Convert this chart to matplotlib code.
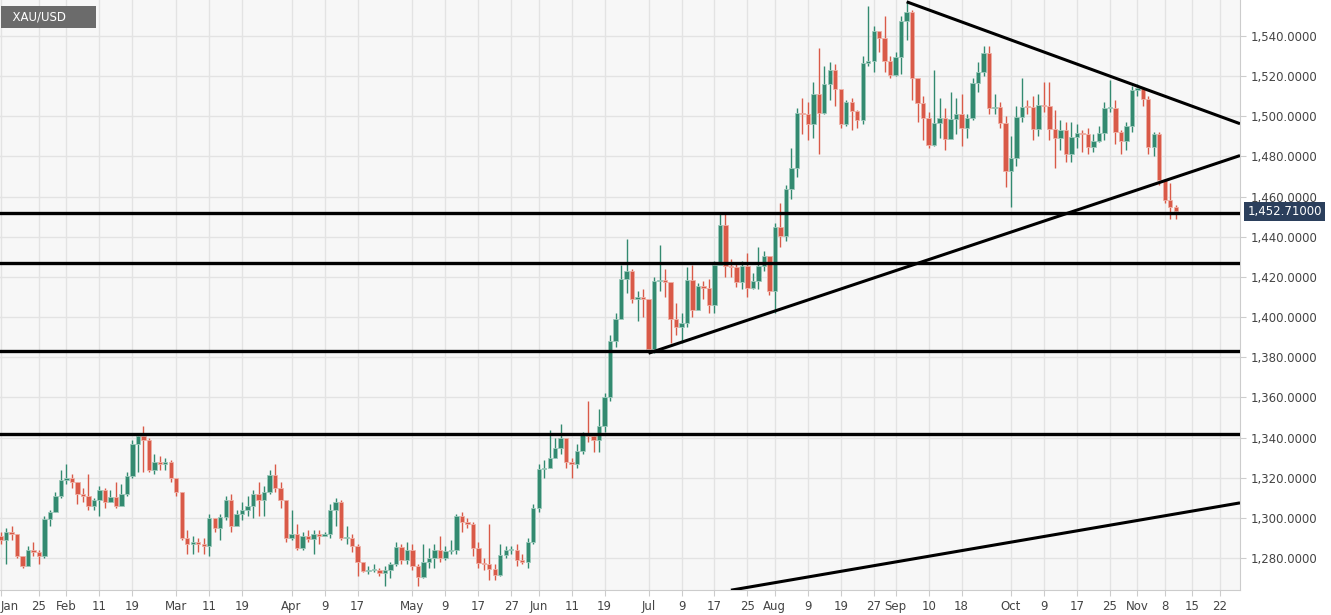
import numpy as np
import pandas as pd
import matplotlib
matplotlib.use("Agg")
from matplotlib import pyplot as plt
from matplotlib.patches import Rectangle

# daily closes / highs / lows (Jan 15 .. Nov 12, 2019)
closes = [1289, 1293, 1292, 1281, 1276, 1284, 1283, 1281, 1299.5, 1303, 1311, 1319, 1320,
          1318, 1312, 1311, 1306, 1309, 1314, 1308, 1310.5, 1306, 1312, 1321, 1337, 1341, 1339,
          1324, 1328, 1327, 1328, 1320, 1313,
          1290, 1287, 1288, 1287, 1286, 1300, 1295, 1300.5, 1309, 1296, 1302, 1304, 1306, 1312,
          1309, 1313, 1321.5, 1315, 1309, 1290, 1292,
          1285, 1291, 1289.5, 1292, 1291, 1292, 1304, 1308, 1290, 1290, 1286, 1278, 1273.5, 1274,
          1274, 1272.5, 1274, 1277, 1285.7, 1279, 1284, 1276,
          1270.5, 1278, 1280, 1284, 1280, 1283.7, 1284, 1301, 1298, 1297, 1285, 1277.4, 1277,
          1274.6, 1271.6, 1281.5, 1284, 1284, 1279, 1278, 1288, 1305,
          1324.4, 1325, 1329.7, 1335, 1340, 1327.7, 1326.7, 1333.3, 1342, 1340.8, 1339, 1346,
          1360, 1388, 1399, 1419, 1423, 1408.8, 1410, 1409,
          1384, 1418, 1418.5, 1417.6, 1399, 1395, 1397, 1418.5, 1403.5, 1415.5, 1414.3, 1406,
          1426, 1445.8, 1425.6, 1424.8, 1417.6, 1425.4, 1414.3, 1418.1, 1425.6, 1430.4, 1413,
          1445, 1440.5, 1463.6, 1474, 1501.5, 1501, 1496, 1511, 1501.5, 1516, 1523, 1513.6, 1496,
          1507, 1502.8, 1498, 1526.7, 1527.5, 1542.6, 1539.1, 1527.5, 1520.5,
          1529.7, 1547.6, 1552, 1518.9, 1506.8, 1499, 1485.7, 1496.8, 1498.9, 1488.5, 1498.5,
          1501, 1494, 1499, 1516.7, 1522.2, 1531.7, 1504, 1504.4, 1496.8, 1472.7,
          1479, 1499.8, 1504.8, 1504.4, 1493.5, 1505.6, 1505, 1493.7, 1489, 1493.2, 1481, 1489.8,
          1491.5, 1491, 1484.5, 1487.7, 1491.7, 1504, 1504.3, 1492.3, 1487.7, 1495.3, 1513,
          1513.9, 1508.4, 1484.5, 1491, 1468.3, 1458.3, 1455, 1452.8]
highs = [1293, 1295, 1296, 1292, 1281, 1286, 1288, 1284, 1301, 1304, 1313, 1324, 1327,
         1322, 1318, 1315, 1322, 1310, 1316, 1315, 1314, 1318, 1317, 1323, 1339, 1341.5, 1346,
         1340, 1332, 1331, 1330, 1329, 1320,
         1313, 1294, 1291, 1290, 1290, 1302, 1300, 1302, 1311, 1312, 1304, 1308, 1311, 1314,
         1318, 1316, 1324, 1327, 1318, 1309, 1304,
         1297, 1293, 1294, 1294, 1294, 1293, 1307, 1310, 1309, 1296, 1292, 1287, 1278, 1276,
         1277, 1275, 1276, 1278, 1288, 1287, 1288, 1287,
         1277, 1287, 1285, 1287, 1291, 1286, 1289, 1302, 1303, 1300, 1298, 1288, 1280,
         1297, 1277, 1287, 1286, 1286, 1287, 1282, 1290, 1307,
         1327, 1329, 1344, 1340, 1347, 1338, 1330, 1337, 1343, 1358, 1342, 1354,
         1362, 1391, 1402, 1426, 1439, 1424, 1413, 1414,
         1398, 1420, 1436, 1424, 1417, 1407, 1402, 1425, 1426, 1417, 1418, 1419,
         1428, 1452, 1452, 1429, 1427, 1428, 1432, 1422, 1435, 1433, 1430,
         1447, 1457, 1466, 1484, 1504, 1509, 1507, 1517, 1534, 1525, 1527, 1526, 1505,
         1508, 1509, 1503, 1530, 1555, 1545, 1542, 1550, 1530,
         1532, 1550, 1557, 1553, 1515, 1510, 1502, 1523, 1509, 1504, 1512,
         1509, 1511, 1501, 1519, 1527, 1535, 1535, 1511, 1507, 1500,
         1490, 1505, 1519, 1508, 1510, 1511, 1517, 1517, 1503, 1498, 1497, 1497,
         1496, 1493, 1494, 1491, 1495, 1507, 1518, 1508, 1493, 1497, 1515,
         1516, 1514, 1510, 1492, 1492, 1466, 1467, 1456]
lows = [1287, 1277, 1289, 1280, 1275, 1277, 1281, 1277, 1280, 1296, 1303, 1310, 1317,
        1315, 1307, 1308, 1304, 1304, 1301, 1305, 1308, 1305, 1307, 1311, 1320, 1323, 1323,
        1323, 1322, 1324, 1324, 1318, 1311,
        1289, 1282, 1282, 1283, 1282, 1281, 1293, 1289, 1299, 1293, 1298, 1299, 1301, 1300,
        1301, 1301, 1312, 1313, 1305, 1288, 1289,
        1284, 1284, 1288, 1282, 1287, 1291, 1290, 1296, 1289, 1287, 1283, 1271, 1273, 1272,
        1273, 1271, 1266, 1270, 1276, 1277, 1277, 1274,
        1266, 1270, 1275, 1275, 1278, 1279, 1282, 1282, 1293, 1295, 1281, 1275, 1274,
        1269, 1269, 1271, 1280, 1282, 1276, 1277, 1275, 1287,
        1303, 1320, 1325, 1330, 1332, 1325, 1320, 1325, 1332, 1338, 1333, 1333,
        1343, 1358, 1385, 1400, 1412, 1407, 1398, 1400,
        1382, 1382, 1413, 1410, 1387, 1391, 1387, 1395, 1400, 1404, 1409, 1402,
        1402, 1427, 1420, 1420, 1415, 1414, 1410, 1414, 1414, 1423, 1411,
        1402, 1435, 1438, 1459, 1470, 1491, 1488, 1489, 1481, 1501, 1508, 1505, 1494,
        1495, 1493, 1494, 1496, 1525, 1522, 1532, 1522, 1519,
        1520, 1521, 1538, 1508, 1497, 1488, 1484, 1485, 1489, 1483, 1491,
        1491, 1485, 1489, 1498, 1512, 1520, 1501, 1501, 1494, 1465,
        1455, 1475, 1497, 1501, 1488, 1490, 1502, 1488, 1474, 1483, 1477, 1477,
        1484, 1482, 1481, 1482, 1487, 1488, 1502, 1486, 1481, 1483, 1492,
        1510, 1505, 1481, 1480, 1466, 1457, 1449, 1449]
first_open = 1291
last_price = 1452.71

h_levels = [1452.0, 1427.0, 1383.0, 1342.0]
# trendlines as (date, price) anchor pairs
trend_lines = [(("2019-09-04", 1557.0), ("2019-11-01", 1515.0)),
               (("2019-07-01", 1382.0), ("2019-11-07", 1467.0)),
               (("2019-07-22", 1264.0), ("2019-11-12", 1302.0))]
tick_dates = ["2019-01-15", "2019-01-25", "2019-02-01", "2019-02-11", "2019-02-19", "2019-03-01",
              "2019-03-11", "2019-03-19", "2019-04-01", "2019-04-09", "2019-04-17", "2019-05-01",
              "2019-05-09", "2019-05-17", "2019-05-27", "2019-06-03", "2019-06-11", "2019-06-19",
              "2019-07-01", "2019-07-09", "2019-07-17", "2019-07-25", "2019-08-01", "2019-08-09",
              "2019-08-19", "2019-08-27", "2019-09-02", "2019-09-10", "2019-09-18", "2019-10-01",
              "2019-10-09", "2019-10-17", "2019-10-25", "2019-11-01", "2019-11-08", "2019-11-15",
              "2019-11-22"]
tick_labels = ["Jan", "25", "Feb", "11", "19", "Mar", "11", "19", "Apr", "9", "17", "May",
               "9", "17", "27", "Jun", "11", "19", "Jul", "9", "17", "25", "Aug", "9",
               "19", "27", "Sep", "10", "18", "Oct", "9", "17", "25", "Nov", "8", "15", "22"]

n = len(closes)
dates = pd.bdate_range(end="2019-11-12", periods=n)
all_dates = pd.bdate_range(start=dates[0], end="2019-12-31")
pos = {d: i for i, d in enumerate(all_dates)}


def idx(s):
    d = pd.Timestamp(s)
    while d not in pos:
        d += pd.Timedelta(days=1)
    return pos[d]


opens = [first_open] + closes[:-1]
up_c, dn_c = "#338a70", "#d95a48"
up_e, dn_e = "#9cc9bb", "#eeb0a6"

fig = plt.figure(figsize=(13.31, 6.15), dpi=100)
ax = fig.add_axes([0, 1 - 590 / 615, 1240 / 1331, 590 / 615])
ax.set_facecolor("#f7f7f7")
fig.patch.set_facecolor("white")

x_right = n - 1 + 11.7
ax.set_xlim(-0.1, x_right)
ax.set_ylim(1264.1, 1557.9)

for i in range(n):
    o, c, h, l = opens[i], closes[i], highs[i], lows[i]
    col, ec = (up_c, up_e) if c >= o else (dn_c, dn_e)
    ax.vlines(i, l, h, color=col, lw=1.0, zorder=3)
    lo, hi = min(o, c), max(o, c)
    ax.add_patch(Rectangle((i - 0.4, lo), 0.8, max(hi - lo, 0.5), facecolor=col,
                           edgecolor=ec, lw=0.6, zorder=4))

for lv in h_levels:
    ax.axhline(lv, color="black", lw=2.4, zorder=5)

for (d1, p1), (d2, p2) in trend_lines:
    x1, x2 = idx(d1), idx(d2)
    slope = (p2 - p1) / (x2 - x1)
    ax.plot([x1, x_right], [p1, p1 + slope * (x_right - x1)], color="black", lw=2.2,
            zorder=5, solid_capstyle="butt")

ax.set_yticks(np.arange(1280, 1541, 20))
ax.set_yticklabels([f"{v:,.4f}" for v in np.arange(1280, 1541, 20)])
ax.yaxis.tick_right()
ax.set_xticks([idx(d) for d in tick_dates])
ax.set_xticklabels(tick_labels)
ax.get_xticklabels()[0].set_horizontalalignment("left")
ax.tick_params(axis="both", labelsize=8.5, colors="#444444", length=4, color="#cccccc")
ax.grid(True, color="#e3e3e3", lw=1.0, zorder=0)
for s in ["top", "left"]:
    ax.spines[s].set_visible(False)
for s in ["right", "bottom"]:
    ax.spines[s].set_color("#cccccc")

ax.text(1.006, (last_price - 1264.1) / (1557.9 - 1264.1), f"{last_price:,.5f}",
        transform=ax.transAxes, fontsize=8.5, color="white", va="center", ha="left",
        bbox=dict(boxstyle="square,pad=0.25", fc="#2b3f5c", ec="none"), zorder=10)
ax.text(0.004, 0.982, "  XAU/USD       ", transform=ax.transAxes, fontsize=8.5,
        color="white", va="top", ha="left",
        bbox=dict(boxstyle="square,pad=0.35", fc="#6b6b6b", ec="none"), zorder=10)

fig.savefig("out.png", dpi=100)
